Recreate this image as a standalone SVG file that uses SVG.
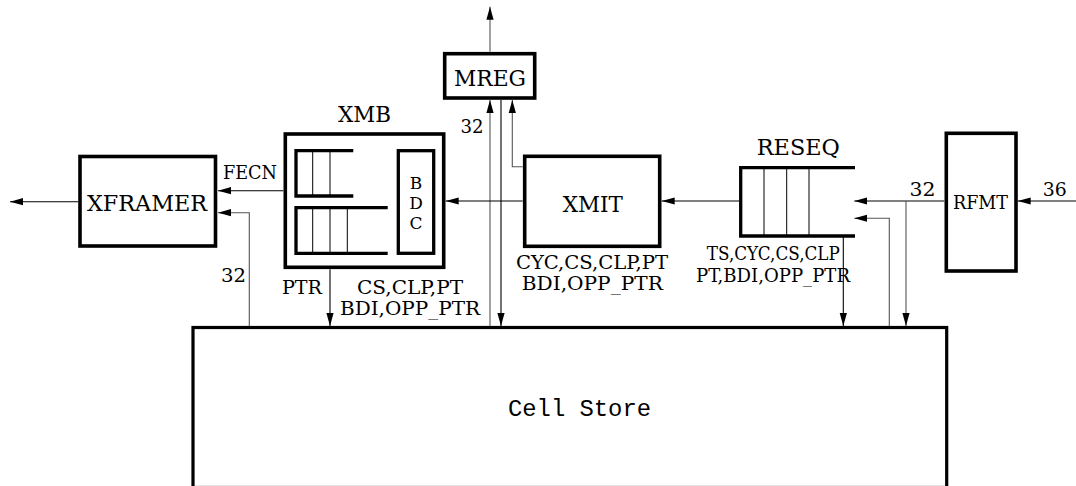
<svg xmlns="http://www.w3.org/2000/svg" width="1076" height="486" viewBox="0 0 1076 486">
<style>
.box{fill:none;stroke:#000;stroke-width:3.6}
.q{fill:none;stroke:#000;stroke-width:3.3}
.thin{fill:none;stroke:#000;stroke-width:1}
.c{fill:none;stroke:#000;stroke-width:1.1}
.g{fill:none;stroke:#555;stroke-width:1.1}
.t{font-family:"DejaVu Serif","Liberation Serif",serif;fill:#000}
.big{font-size:23px}
.sm{font-size:18px}
.bdc{font-size:17px}
.mono{font-family:"Liberation Mono","DejaVu Sans Mono",monospace;font-size:23px;fill:#000}
</style>
<defs>
<marker id="ah" markerUnits="userSpaceOnUse" markerWidth="14" markerHeight="8" refX="13" refY="4" orient="auto" viewBox="0 0 14 8">
<path d="M0,0.4 L13,4 L0,7.6 z" fill="#000"/>
</marker>
</defs>
<rect width="1076" height="486" fill="#fff"/>

<g id="xframer">
<rect class="box" x="80" y="156.5" width="135.5" height="89.5"/>
<text class="t big" x="147" y="211" text-anchor="middle" textLength="120" lengthAdjust="spacingAndGlyphs">XFRAMER</text>
</g>

<g id="xmb">
<text class="t big" x="364.5" y="122" text-anchor="middle" textLength="53" lengthAdjust="spacingAndGlyphs">XMB</text>
<rect class="box" x="285.3" y="134" width="158.4" height="133.3"/>
<path class="q" d="M353.3,150.7 H296 V196 H353.3"/>
<line class="thin" x1="312.7" y1="150.7" x2="312.7" y2="196"/>
<line class="thin" x1="330" y1="150.7" x2="330" y2="196"/>
<path class="q" d="M387.7,207.7 H296 V253.3 H387.7"/>
<line class="thin" x1="312.7" y1="207.7" x2="312.7" y2="253.3"/>
<line class="thin" x1="330" y1="207.7" x2="330" y2="253.3"/>
<line class="thin" x1="347.3" y1="207.7" x2="347.3" y2="253.3"/>
<rect class="q" x="398.3" y="150.7" width="35.4" height="102.6"/>
<text class="t bdc" x="416" y="189" text-anchor="middle">B</text>
<text class="t bdc" x="416" y="209" text-anchor="middle">D</text>
<text class="t bdc" x="416" y="229" text-anchor="middle">C</text>
</g>

<g id="mreg">
<rect class="box" x="444.7" y="53.7" width="90" height="44.3"/>
<text class="t big" x="490" y="86" text-anchor="middle" textLength="72" lengthAdjust="spacingAndGlyphs">MREG</text>
</g>

<g id="xmit">
<rect class="box" x="524.7" y="156.3" width="135" height="90"/>
<text class="t big" x="592.7" y="211.7" text-anchor="middle" textLength="60" lengthAdjust="spacingAndGlyphs">XMIT</text>
</g>

<g id="reseq">
<text class="t big" x="798.3" y="155" text-anchor="middle" textLength="83" lengthAdjust="spacingAndGlyphs">RESEQ</text>
<path class="q" d="M855,167.7 H740.7 V236 H855"/>
<line class="thin" x1="764" y1="167.7" x2="764" y2="236"/>
<line class="thin" x1="786.7" y1="167.7" x2="786.7" y2="236"/>
<line class="thin" x1="809" y1="167.7" x2="809" y2="236"/>
</g>

<g id="rfmt">
<rect class="box" x="946.3" y="133.3" width="69.7" height="137.7"/>
<text class="t sm" x="980.5" y="209.3" text-anchor="middle" textLength="55" lengthAdjust="spacingAndGlyphs">RFMT</text>
</g>

<g id="cellstore">
<rect class="box" x="193" y="327.5" width="753.7" height="160" style="stroke-width:3.2"/>
<text class="mono" x="579.5" y="416" text-anchor="middle" textLength="143" lengthAdjust="spacingAndGlyphs">Cell Store</text>
</g>

<g id="connectors">
<line class="c" x1="78" y1="201.7" x2="10" y2="201.7" marker-end="url(#ah)"/>
<line class="c" x1="283.3" y1="190.7" x2="218" y2="190.7" marker-end="url(#ah)"/>
<path class="g" d="M249.3,326 V212.7 H218" marker-end="url(#ah)"/>
<line class="g" x1="490" y1="51.7" x2="490" y2="6.7" marker-end="url(#ah)"/>
<line class="g" x1="490" y1="326" x2="490" y2="100" marker-end="url(#ah)"/>
<line class="c" x1="501" y1="100" x2="501" y2="326" marker-end="url(#ah)"/>
<path class="g" d="M522.7,166.7 H512.3 V100" marker-end="url(#ah)"/>
<line class="c" x1="522.7" y1="201" x2="445.7" y2="201" marker-end="url(#ah)"/>
<line class="c" x1="739" y1="201" x2="661.7" y2="201" marker-end="url(#ah)"/>
<line class="c" x1="944.3" y1="201" x2="854.3" y2="201" marker-end="url(#ah)"/>
<line class="g" x1="906" y1="201" x2="906" y2="326" marker-end="url(#ah)"/>
<path class="g" d="M889.3,326 V218.3 H854.3" marker-end="url(#ah)"/>
<line class="c" x1="843.3" y1="236" x2="843.3" y2="326" marker-end="url(#ah)"/>
<line class="c" x1="330" y1="269.3" x2="330" y2="326" marker-end="url(#ah)"/>
<line class="c" x1="1076" y1="201" x2="1017.7" y2="201" marker-end="url(#ah)"/>
</g>

<g id="labels">
<text class="t sm" x="250" y="179.3" text-anchor="middle" textLength="54" lengthAdjust="spacingAndGlyphs">FECN</text>
<text class="t sm" x="233.5" y="281.7" text-anchor="middle" textLength="25" lengthAdjust="spacingAndGlyphs">32</text>
<text class="t sm" x="472" y="132.7" text-anchor="middle" textLength="23" lengthAdjust="spacingAndGlyphs">32</text>
<text class="t sm" x="922.5" y="196" text-anchor="middle" textLength="26" lengthAdjust="spacingAndGlyphs">32</text>
<text class="t sm" x="1054.7" y="196" text-anchor="middle" textLength="24" lengthAdjust="spacingAndGlyphs">36</text>
<text class="t sm" x="302" y="294" text-anchor="middle" textLength="40" lengthAdjust="spacingAndGlyphs">PTR</text>
<text class="t sm" x="410" y="294.3" text-anchor="middle" textLength="106" lengthAdjust="spacingAndGlyphs">CS,CLP,PT</text>
<text class="t sm" x="410" y="315" text-anchor="middle" textLength="140" lengthAdjust="spacingAndGlyphs">BDI,OPP_PTR</text>
<text class="t sm" x="592" y="269.3" text-anchor="middle" textLength="152" lengthAdjust="spacingAndGlyphs">CYC,CS,CLP,PT</text>
<text class="t sm" x="592.3" y="290" text-anchor="middle" textLength="141" lengthAdjust="spacingAndGlyphs">BDI,OPP_PTR</text>
<text class="t sm" x="773.3" y="260" text-anchor="middle" textLength="133" lengthAdjust="spacingAndGlyphs">TS,CYC,CS,CLP</text>
<text class="t sm" x="773" y="281.7" text-anchor="middle" textLength="154" lengthAdjust="spacingAndGlyphs">PT,BDI,OPP_PTR</text>
</g>
</svg>
